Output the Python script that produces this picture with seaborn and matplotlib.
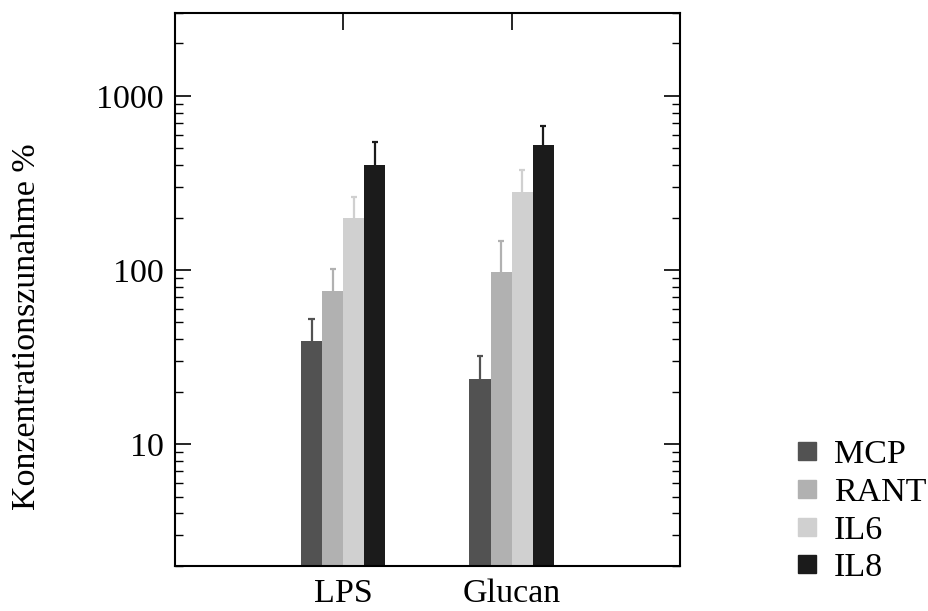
import numpy as np
import pandas as pd
import matplotlib
matplotlib.use("Agg")
import matplotlib.pyplot as plt
from matplotlib.lines import Line2D
from matplotlib.ticker import LogLocator, FixedLocator, FixedFormatter, NullFormatter
import seaborn as sns

# Stimuli and measured markers
stimuli = ["LPS", "Glucan"]
markers = ["MCP", "RANT", "IL6", "IL8"]

# Mean concentration increase (%) per marker, in stimulus order
mcp = [39, 23.5]
rant = [75.5, 98]
il6 = [198, 280]
il8 = [400, 520]

# Upper error (%), added on top of each mean
mcp_err = [13, 8.6]
rant_err = [25.5, 49]
il6_err = [66, 97]
il8_err = [140, 153]

colors = ["#525252", "#b1b1b1", "#d0d0d0", "#1b1b1b"]

means = {"MCP": mcp, "RANT": rant, "IL6": il6, "IL8": il8}
errs = {"MCP": mcp_err, "RANT": rant_err, "IL6": il6_err, "IL8": il8_err}

rows = []
for m in markers:
    for s, v, e in zip(stimuli, means[m], errs[m]):
        rows.append({"Stimulus": s, "Marker": m, "Wert": v, "Fehler": e})
df = pd.DataFrame(rows)

sns.set_style("white")
plt.rcParams["font.family"] = ["Liberation Serif", "DejaVu Serif"]
plt.rcParams.update({
    "text.color": "black",
    "axes.labelcolor": "black",
    "xtick.color": "black",
    "ytick.color": "black",
    "axes.edgecolor": "black",
})

fig = plt.figure(figsize=(9.29, 6.11), dpi=100)
ax = fig.add_axes([0.188, 0.074, 0.544, 0.905])

sns.barplot(data=df, x="Stimulus", y="Wert", hue="Marker", order=stimuli,
            hue_order=markers, palette=colors, errorbar=None, width=0.5,
            gap=0, linewidth=0, saturation=1, ax=ax, legend=False)

ax.set_yscale("log")
ax.set_ylim(2, 3000)
ax.set_xlim(-1, 2)

# One-sided error bars on top of each bar, in the bar's colour
cap_half = 0.018
for cont, m, c in zip(ax.containers, markers, colors):
    for bar, s in zip(cont, stimuli):
        row = df[(df.Marker == m) & (df.Stimulus == s)].iloc[0]
        xc = bar.get_x() + bar.get_width() / 2
        top = row.Wert + row.Fehler
        ax.vlines(xc, row.Wert, top, colors=c, linewidth=1.6, zorder=1)
        ax.hlines(top, xc - cap_half, xc + cap_half, colors=c, linewidth=1.6, zorder=1)

ax.yaxis.set_major_locator(FixedLocator([10, 100, 1000]))
ax.yaxis.set_major_formatter(FixedFormatter(["10", "100", "1000"]))
ax.yaxis.set_minor_locator(LogLocator(base=10, subs=np.arange(2, 10)))
ax.yaxis.set_minor_formatter(NullFormatter())

ax.tick_params(axis="y", which="major", direction="in", length=11.5, width=1.2,
               left=True, right=True, labelsize=24.5, pad=8, colors="black")
ax.tick_params(axis="y", which="minor", direction="in", length=6, width=1.0,
               left=True, right=True, colors="black")
ax.tick_params(axis="x", which="both", direction="in", length=12, width=1.2,
               bottom=False, top=True, labelbottom=True, labelsize=24.5, pad=9,
               colors="black")

for sp in ax.spines.values():
    sp.set_visible(True)
    sp.set_color("black")
    sp.set_linewidth(1.5)

ax.set_xlabel("")
ax.set_ylabel("Konzentrationszunahme %", fontsize=24.5, color="black")
ax.yaxis.set_label_coords(-0.262, 0.432)

handles = [Line2D([0], [0], marker="s", linestyle="none", markersize=13,
                  markerfacecolor=c, markeredgecolor=c) for c in colors]
fig.legend(handles, markers, loc="center left", bbox_to_anchor=(0.854, 0.163),
           frameon=False, fontsize=24.5, handlelength=0.8, handletextpad=0.4,
           labelspacing=0.2, borderaxespad=0, borderpad=0, labelcolor="black")

fig.savefig("out.png", dpi=100)
